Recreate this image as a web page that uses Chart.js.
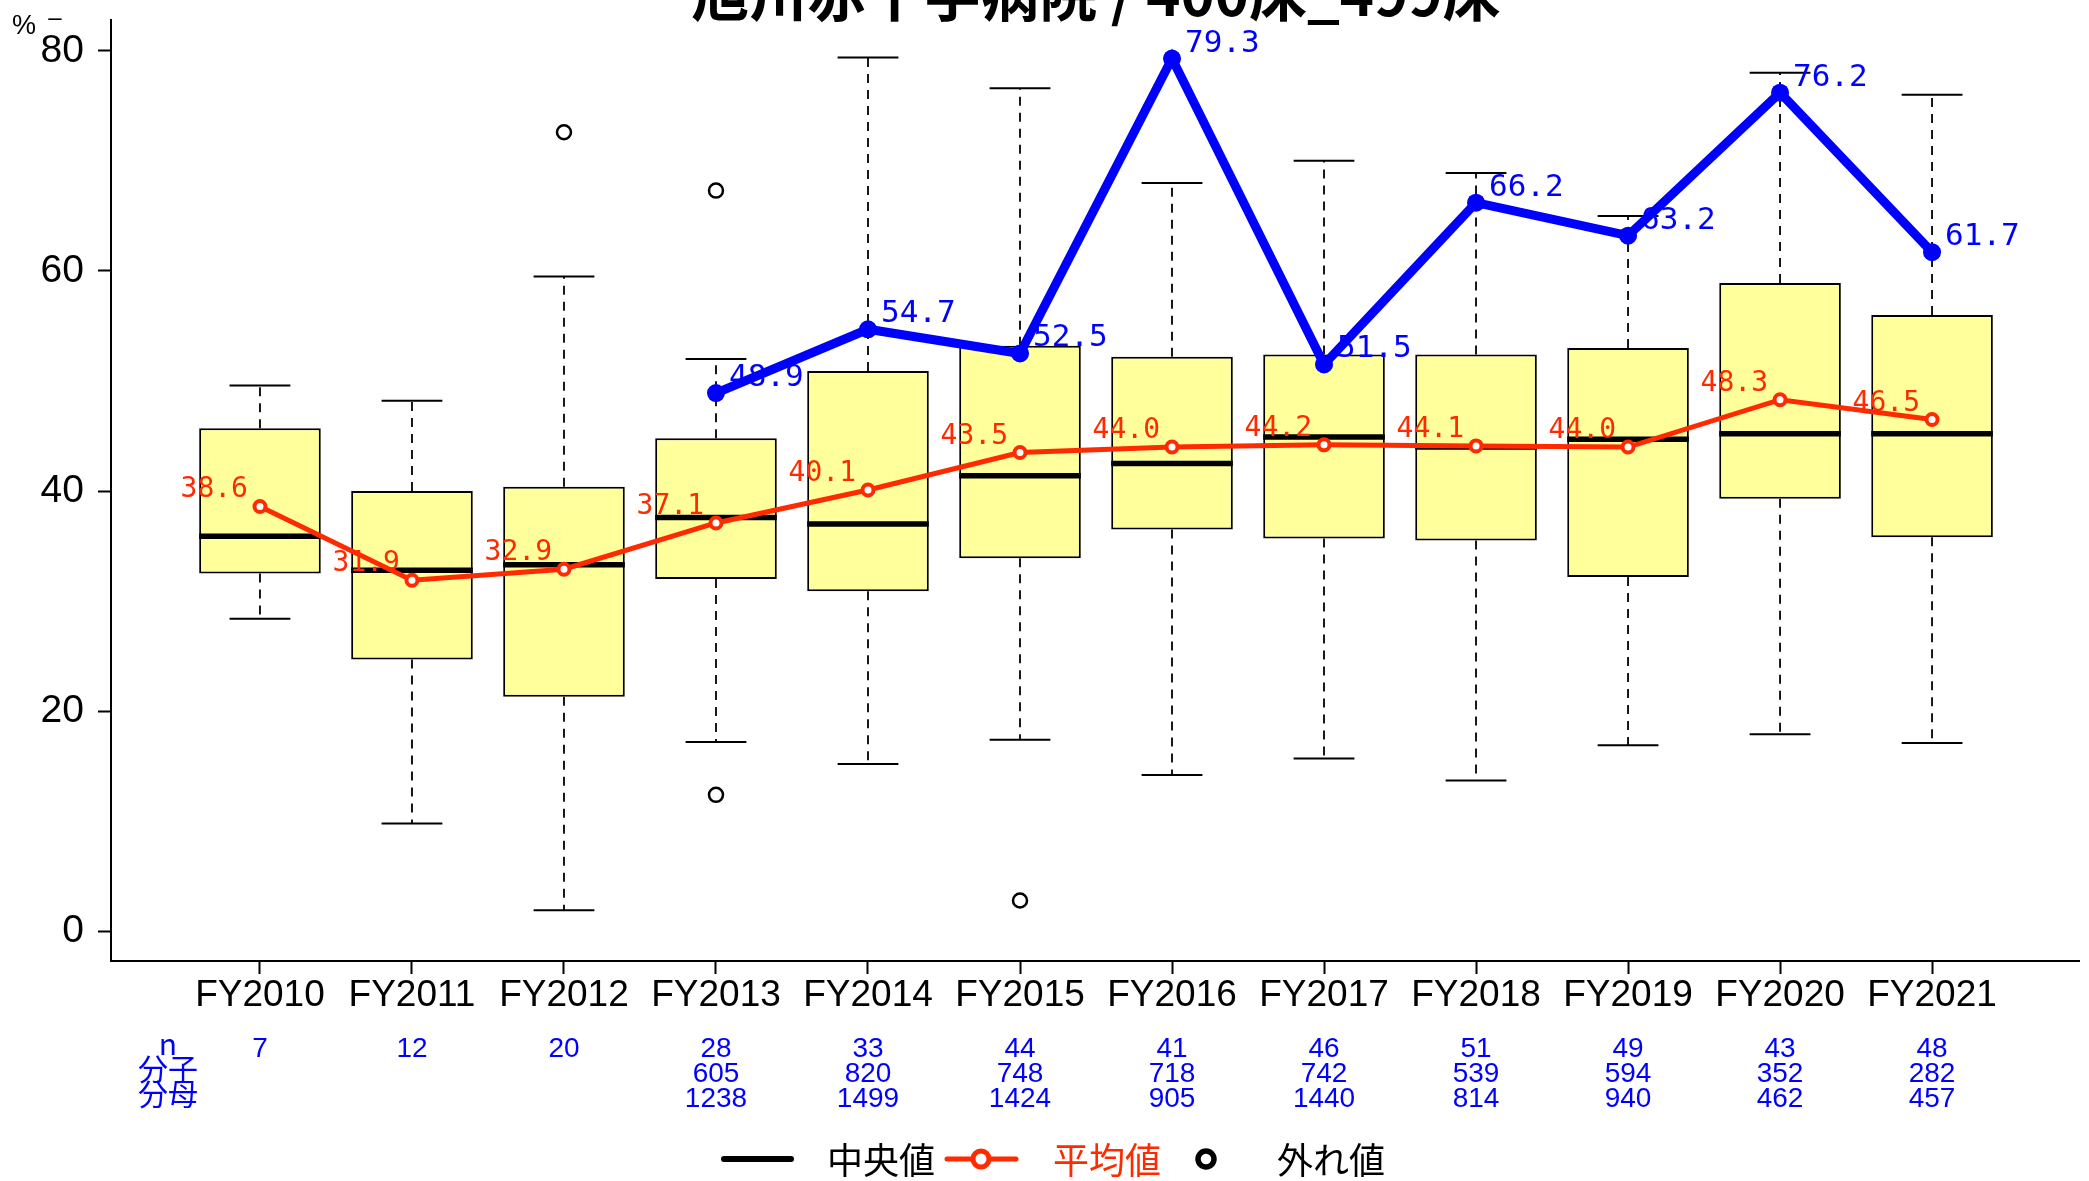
<!DOCTYPE html>
<html>
<head>
<meta charset="utf-8">
<script src="https://cdn.jsdelivr.net/npm/chart.js@4.4.0/dist/chart.umd.min.js"></script>
<style>
  html, body { margin: 0; padding: 0; background: #fff; }
</style>
</head>
<body>
<canvas id="boxChart" width="2089" height="1181"></canvas>
<script>
// ---- data ----
const categories = ["FY2010", "FY2011", "FY2012", "FY2013", "FY2014", "FY2015",
                    "FY2016", "FY2017", "FY2018", "FY2019", "FY2020", "FY2021"];
const whiskerLow  = [28.4, 9.8, 1.9, 17.2, 15.2, 17.4, 14.2, 15.7, 13.7, 16.9, 17.9, 17.1];
const boxLow      = [32.5, 24.7, 21.3, 32.0, 30.9, 33.9, 36.5, 35.7, 35.5, 32.2, 39.3, 35.8];
const medians     = [35.9, 32.8, 33.3, 37.6, 37.0, 41.4, 42.5, 44.9, 44.0, 44.7, 45.2, 45.2];
const boxHigh     = [45.7, 40.0, 40.4, 44.8, 50.9, 53.2, 52.2, 52.4, 52.4, 53.0, 58.9, 56.0];
const whiskerHigh = [49.6, 48.2, 59.5, 52.0, 79.4, 76.6, 68.0, 70.0, 68.9, 65.0, 78.0, 76.0];
const outlierIndex = [2, 3, 3, 5];
const outlierValue = [72.6, 67.3, 12.4, 2.8];
const means    = [38.6, 31.9, 32.9, 37.1, 40.1, 43.5, 44.0, 44.2, 44.1, 44.0, 48.3, 46.5];
const hospital = [null, null, null, 48.9, 54.7, 52.5, 79.3, 51.5, 66.2, 63.2, 76.2, 61.7];
const nCounts      = ["7", "12", "20", "28", "33", "44", "41", "46", "51", "49", "43", "48"];
const numerators   = ["", "", "", "605", "820", "748", "718", "742", "539", "594", "352", "282"];
const denominators = ["", "", "", "1238", "1499", "1424", "905", "1440", "814", "940", "462", "457"];
const rowLabels = ["n", "分子", "分母"];
const yTicks = [0, 20, 40, 60, 80];
const titleText = "旭川赤十字病院 / 400床_499床";

const RED = "#FF2A00", BLUE = "#0000FF";
const LATIN = "'Liberation Sans', Arial, sans-serif";
const CJK = "'Noto Sans CJK JP', 'Liberation Sans', sans-serif";
const MONO = "'DejaVu Sans Mono', monospace";

// whiskers, caps and medians, drawn right after the boxes
const whiskerPlugin = {
  id: "whiskers",
  afterDatasetDraw(chart, args) {
    if (args.index !== 0) return;
    const c = chart.ctx, xs = chart.scales.x, ys = chart.scales.y;
    const capHalf = xs.getPixelForValue(0.2) - xs.getPixelForValue(0);
    const boxHalf = xs.getPixelForValue(0.4) - xs.getPixelForValue(0);
    c.save();
    c.strokeStyle = "#000";
    categories.forEach((cat, i) => {
      const x = xs.getPixelForValue(i);
      c.setLineDash([9, 7]);
      c.lineWidth = 1.8;
      c.beginPath();
      c.moveTo(x, ys.getPixelForValue(boxHigh[i]));
      c.lineTo(x, ys.getPixelForValue(whiskerHigh[i]));
      c.moveTo(x, ys.getPixelForValue(boxLow[i]));
      c.lineTo(x, ys.getPixelForValue(whiskerLow[i]));
      c.stroke();
      c.setLineDash([]);
      c.lineWidth = 2;
      c.beginPath();
      [whiskerHigh[i], whiskerLow[i]].forEach(v => {
        const y = ys.getPixelForValue(v);
        c.moveTo(x - capHalf, y);
        c.lineTo(x + capHalf, y);
      });
      c.stroke();
      c.lineWidth = 5.5;
      c.beginPath();
      const ym = ys.getPixelForValue(medians[i]);
      c.moveTo(x - boxHalf, ym);
      c.lineTo(x + boxHalf, ym);
      c.stroke();
    });
    c.restore();
  }
};

// value labels, count table, legend and title
const annotatePlugin = {
  id: "annotate",
  afterDatasetsDraw(chart) {
    const c = chart.ctx;
    const meanMeta = chart.getDatasetMeta(2), hospMeta = chart.getDatasetMeta(3);
    c.save();
    c.textBaseline = "alphabetic";
    c.font = "28px " + MONO;
    c.fillStyle = RED;
    c.textAlign = "right";
    means.forEach((v, i) => {
      const p = meanMeta.data[i];
      c.fillText(v.toFixed(1), p.x - 12, p.y - 9);
    });
    c.font = "31px " + MONO;
    c.fillStyle = BLUE;
    c.textAlign = "left";
    hospital.forEach((v, i) => {
      if (v == null) return;
      const p = hospMeta.data[i];
      c.fillText(v.toFixed(1), p.x + 13, p.y - 7);
    });
    c.restore();
  },
  afterDraw(chart) {
    const c = chart.ctx, xs = chart.scales.x;
    c.save();
    // table under the axis
    c.fillStyle = BLUE;
    c.textAlign = "center";
    c.textBaseline = "alphabetic";
    c.font = "28px " + LATIN;
    categories.forEach((cat, i) => {
      const x = xs.getPixelForValue(i);
      c.fillText(nCounts[i], x, 1057);
      c.fillText(numerators[i], x, 1082);
      c.fillText(denominators[i], x, 1107);
    });
    c.font = "30px " + CJK;
    rowLabels.forEach((t, r) => c.fillText(t, 168, 1055 + r * 25));

    // legend
    const ly = 1159;
    c.lineCap = "round";
    c.strokeStyle = "#000";
    c.lineWidth = 6;
    c.beginPath(); c.moveTo(724, ly); c.lineTo(791, ly); c.stroke();
    c.strokeStyle = RED;
    c.lineWidth = 5;
    c.beginPath(); c.moveTo(947, ly); c.lineTo(1016, ly); c.stroke();
    c.fillStyle = "#fff";
    c.lineWidth = 5;
    c.beginPath(); c.arc(981, ly, 8, 0, Math.PI * 2); c.fill(); c.stroke();
    c.strokeStyle = "#000";
    c.lineWidth = 5.5;
    c.beginPath(); c.arc(1206, ly, 8, 0, Math.PI * 2); c.stroke();
    c.font = "36px " + CJK;
    c.textAlign = "left";
    c.textBaseline = "middle";
    c.fillStyle = "#000";
    c.fillText("中央値", 827, ly + 1);
    c.fillStyle = RED;
    c.fillText("平均値", 1053, ly + 1);
    c.fillStyle = "#000";
    c.fillText("外れ値", 1277, ly + 1);

    // title, partly above the top edge
    c.textAlign = "center";
    c.textBaseline = "alphabetic";
    c.font = "bold 58px " + CJK;
    c.fillText(titleText, 1096, 16);

    // unit mark
    c.font = "27px " + LATIN;
    c.fillText("%", 24, 34);
    c.font = "24px " + LATIN;
    c.fillText("–", 55, 25);
    c.restore();
  }
};

const ctx = document.getElementById("boxChart").getContext("2d");

new Chart(ctx, {
  type: "bar",
  data: {
    datasets: [
      {
        type: "bar",
        data: categories.map((c, i) => ({ x: i, y: [boxLow[i], boxHigh[i]] })),
        backgroundColor: "#FFFF9C",
        borderColor: "#000",
        borderWidth: 2,
        borderSkipped: false,
        categoryPercentage: 1,
        barPercentage: 0.8,
        order: 4
      },
      {
        type: "scatter",
        data: outlierIndex.map((x, i) => ({ x: x, y: outlierValue[i] })),
        pointStyle: "circle",
        pointRadius: 7,
        pointBorderWidth: 2.5,
        pointBorderColor: "#000",
        pointBackgroundColor: "rgba(0,0,0,0)",
        order: 3
      },
      {
        type: "line",
        data: means.map((v, i) => ({ x: i, y: v })),
        borderColor: RED,
        borderWidth: 5,
        pointRadius: 5.5,
        pointBorderWidth: 4,
        pointBackgroundColor: "#fff",
        pointBorderColor: RED,
        order: 2
      },
      {
        type: "line",
        data: hospital.map((v, i) => ({ x: i, y: v })),
        borderColor: BLUE,
        borderWidth: 9,
        pointRadius: 9,
        pointBorderWidth: 0,
        pointBackgroundColor: BLUE,
        spanGaps: false,
        order: 1
      }
    ]
  },
  options: {
    responsive: false,
    devicePixelRatio: 1,
    animation: false,
    layout: { padding: { top: 20, right: 8, left: 0, bottom: 0 } },
    plugins: {
      legend: { display: false },
      tooltip: { enabled: false },
      title: { display: false }
    },
    scales: {
      x: {
        type: "linear",
        min: -0.98,
        max: 11.97,
        offset: false,
        afterBuildTicks: s => { s.ticks = categories.map((c, i) => ({ value: i })); },
        afterFit: s => { s.height = 220; s.paddingLeft = 0; s.paddingRight = 0; },
        ticks: {
          callback: v => categories[v],
          font: { family: LATIN, size: 37 },
          color: "#000",
          padding: 0,
          autoSkip: false,
          maxRotation: 0
        },
        grid: { offset: false, drawOnChartArea: false, tickLength: 13, tickColor: "#000", tickWidth: 2 },
        border: { display: true, color: "#000", width: 2 }
      },
      y: {
        type: "linear",
        min: -2.7,
        max: 82.8,
        afterBuildTicks: s => { s.ticks = yTicks.map(v => ({ value: v })); },
        afterFit: s => { s.width = 111; s.paddingTop = 0; s.paddingBottom = 0; },
        ticks: { font: { family: LATIN, size: 39 }, color: "#000", padding: 14 },
        grid: { drawOnChartArea: false, tickLength: 13, tickColor: "#000", tickWidth: 2 },
        border: { display: true, color: "#000", width: 2 }
      }
    }
  },
  plugins: [whiskerPlugin, annotatePlugin]
});
</script>
</body>
</html>
